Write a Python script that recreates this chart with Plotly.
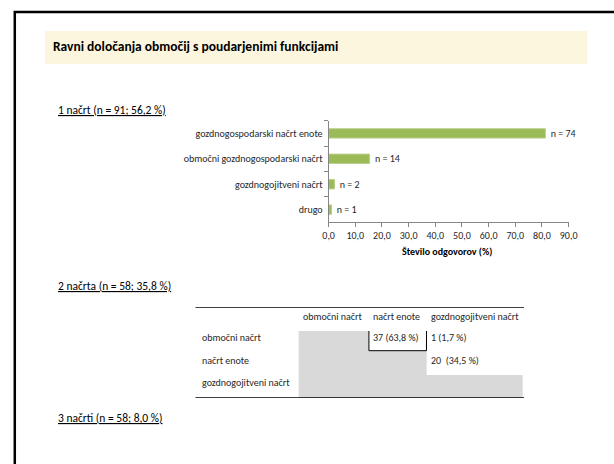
import plotly.graph_objects as go

# ---------------- data ----------------
title_text = "Ravni določanja območij s poudarjenimi funkcijami"
section_labels = ["1 načrt (n = 91; 56,2 %)",
                  "2 načrta (n = 58; 35,8 %)",
                  "3 načrti (n = 58; 8,0 %)"]

plan_categories = ["gozdnogospodarski načrt enote",
                   "območni gozdnogospodarski načrt",
                   "gozdnogojitveni načrt",
                   "drugo"]
plan_pct = [81.3, 15.4, 2.2, 1.1]
plan_n = [74, 14, 2, 1]
x_tick_vals = [0, 10, 20, 30, 40, 50, 60, 70, 80, 90]
x_axis_title = "Število odgovorov (%)"

pair_plans = ["območni načrt", "načrt enote", "gozdnogojitveni načrt"]
pair_counts = [[None, 37, 1],
               [None, None, 20],
               [None, None, None]]
pair_pcts = [[None, 63.8, 1.7],
             [None, None, 34.5],
             [None, None, None]]
highlight_cell = (0, 1)

# ---------------- layout constants (page pixels) ----------------
W, H = 614, 464
FONT = "Carlito, Calibri, Lato, sans-serif"
BAR_COLOR = "#9BBB59"
AXIS_COLOR = "#868686"
TEXT_COLOR = "#262626"
GRAY = "#D9D9D9"


def px(x):
    return x / W


def py(y):
    return 1 - y / H


# bar chart plot area
BX0, BX1, BY0, BY1 = 330.7, 576.7, 120.7, 222.3
# table geometry
T_X0, T_X1 = 194, 531
T_TOP, T_BOT = 307, 398
COL_EDGES = [300, 372, 431, 530]
ROW_EDGES = [331, 350.7, 375, 398]
LABEL_X = 199
COL_TEXT_PAD = 2.5
HEADER_Y = 316
ROW_TEXT_Y = [337, 360.5, 382]

fig = go.Figure()

# bars
fig.add_trace(go.Bar(
    x=plan_pct, y=plan_categories, orientation="h",
    marker=dict(color=BAR_COLOR, line=dict(color="#BCD08E", width=1)),
    width=0.37,
    customdata=plan_n,
    texttemplate=" n = %{customdata}", textposition="outside",
    constraintext="none",
    textfont=dict(family=FONT, size=10, color=TEXT_COLOR),
    cliponaxis=False, hoverinfo="skip", showlegend=False,
    xaxis="x", yaxis="y",
))

# table gray cells (None -> gray)
z = [[1 if v is None else None for v in row] for row in pair_counts]
fig.add_trace(go.Heatmap(
    x=COL_EDGES, y=ROW_EDGES, z=z,
    colorscale=[[0, GRAY], [1, GRAY]], showscale=False,
    hoverinfo="skip", xaxis="x2", yaxis="y2", zmin=0, zmax=1,
))

shapes = []
annotations = []

# page border
shapes.append(dict(type="rect", xref="paper", yref="paper",
                   x0=px(9), x1=px(W + 30), y0=py(H + 30), y1=py(12),
                   line=dict(color="black", width=2.5), layer="above"))
# title band
shapes.append(dict(type="rect", xref="paper", yref="paper",
                   x0=px(40), x1=px(596), y0=py(64), y1=py(31),
                   fillcolor="#FDF6DE", line=dict(width=0), layer="below"))
annotations.append(dict(text="<b>" + title_text + "</b>", xref="paper", yref="paper",
                        x=px(46.5), y=py(46), xanchor="left", yanchor="middle",
                        showarrow=False, font=dict(family=FONT, size=13.5, color="black")))

# section labels
for lab, yy in zip(section_labels, [110, 286, 418]):
    annotations.append(dict(text="<u>" + lab + "</u>", xref="paper", yref="paper",
                            x=px(51.5), y=py(yy), xanchor="left", yanchor="middle",
                            showarrow=False, font=dict(family=FONT, size=11.5, color="black")))

# x axis title
annotations.append(dict(text="<b>" + x_axis_title + "</b>", xref="paper", yref="paper",
                        x=px(452), y=py(251.5), xanchor="center", yanchor="middle",
                        showarrow=False, font=dict(family=FONT, size=10, color="black")))

# table lines
for yy in (T_TOP, T_BOT):
    shapes.append(dict(type="line", xref="x2", yref="y2", x0=T_X0, x1=T_X1, y0=yy, y1=yy,
                       line=dict(color="black", width=1.5)))
# highlight box
hr, hc = highlight_cell
bx0, bx1 = COL_EDGES[hc], COL_EDGES[hc + 1]
by0, by1 = ROW_EDGES[hr], ROW_EDGES[hr + 1]
for seg in [(bx0, by0, bx0, by1), (bx0, by1, bx1, by1), (bx1, by0, bx1, by1)]:
    shapes.append(dict(type="line", xref="x2", yref="y2", x0=seg[0], y0=seg[1], x1=seg[2], y1=seg[3],
                       line=dict(color="black", width=1)))

tfont = dict(family=FONT, size=10, color=TEXT_COLOR)
for j, lab in enumerate(pair_plans):
    annotations.append(dict(text=lab, xref="x2", yref="y2", x=COL_EDGES[j] + COL_TEXT_PAD, y=HEADER_Y,
                            xanchor="left", yanchor="middle", showarrow=False, font=tfont))
for i, lab in enumerate(pair_plans):
    annotations.append(dict(text=lab, xref="x2", yref="y2", x=LABEL_X, y=ROW_TEXT_Y[i],
                            xanchor="left", yanchor="middle", showarrow=False, font=tfont))
    for j in range(len(pair_plans)):
        c = pair_counts[i][j]
        if c is None:
            continue
        sep = "\u00a0 " if c >= 10 and j == 2 else " "
        txt = f"{c}{sep}({pair_pcts[i][j]:.1f} %)".replace(".", ",")
        annotations.append(dict(text=txt, xref="x2", yref="y2", x=COL_EDGES[j] + COL_TEXT_PAD,
                                y=ROW_TEXT_Y[i], xanchor="left", yanchor="middle",
                                showarrow=False, font=tfont))

fig.update_layout(
    width=W, height=H, autosize=False,
    margin=dict(l=0, r=0, t=0, b=0),
    paper_bgcolor="white", plot_bgcolor="rgba(0,0,0,0)",
    separators=", ",
    showlegend=False,
    shapes=shapes, annotations=annotations,
    xaxis=dict(domain=[px(BX0), px(BX1)], range=[0, 90], tickvals=x_tick_vals,
               tickformat=".1f", showgrid=False, zeroline=False,
               showline=True, linecolor=AXIS_COLOR, linewidth=1,
               ticks="outside", ticklen=4, tickcolor=AXIS_COLOR,
               tickfont=dict(family=FONT, size=10, color=TEXT_COLOR), fixedrange=True),
    yaxis=dict(domain=[py(BY1), py(BY0)], type="category",
               categoryorder="array", categoryarray=plan_categories,
               range=[3.5, -0.5], showgrid=False, zeroline=False,
               showline=True, linecolor=AXIS_COLOR, linewidth=1,
               ticks="outside", ticklen=4, tickcolor=AXIS_COLOR, tickson="boundaries",
               ticklabelstandoff=3,
               tickfont=dict(family=FONT, size=10, color=TEXT_COLOR), fixedrange=True),
    xaxis2=dict(domain=[px(T_X0), px(T_X1)], range=[T_X0, T_X1], visible=False,
                anchor="y2", fixedrange=True),
    yaxis2=dict(domain=[py(T_BOT), py(T_TOP)], range=[T_BOT, T_TOP], visible=False,
                anchor="x2", fixedrange=True),
)

fig.write_html("out.html", config={"displayModeBar": False},
               post_script="document.body.style.margin='0';")
